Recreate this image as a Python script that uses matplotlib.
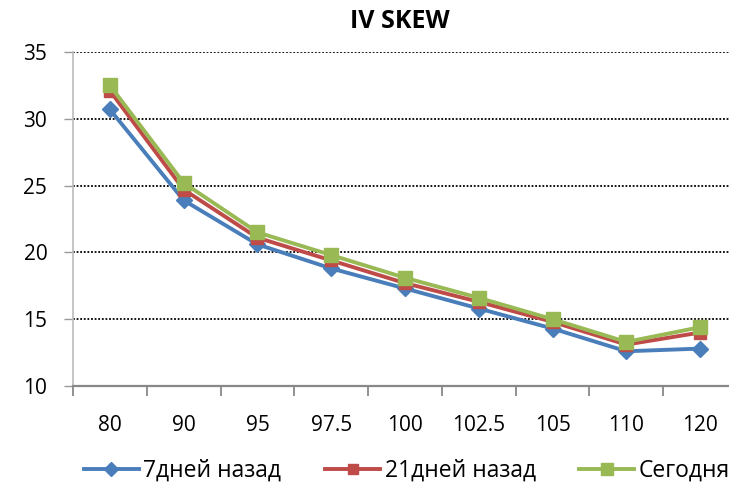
import matplotlib
matplotlib.use("Agg")
import matplotlib.pyplot as plt
import numpy as np

plt.rcParams['font.family'] = ['Open Sans', 'DejaVu Sans']

categories = ["80", "90", "95", "97.5", "100", "102.5", "105", "110", "120"]
days7 = [30.7, 23.9, 20.6, 18.8, 17.3, 15.8, 14.3, 12.6, 12.8]
days21 = [32.1, 24.7, 21.1, 19.4, 17.7, 16.3, 14.8, 13.1, 14.0]
today = [32.5, 25.2, 21.5, 19.8, 18.1, 16.6, 15.0, 13.3, 14.4]
labels = ["7дней назад", "21дней назад", "Сегодня"]
yticks = [10, 15, 20, 25, 30, 35]

fig = plt.figure(figsize=(7.29, 4.92), dpi=100)
ax = fig.add_axes([73/729, 1-386/492, (737-73)/729, (386-52)/492])

x = np.arange(len(categories))
ax.plot(x, days7, color='#4A7EBB', lw=2.8, marker='D', ms=8.5, label=labels[0], zorder=3)
ax.plot(x, days21, color='#BE4B48', lw=2.8, marker='s', ms=8.5, label=labels[1], zorder=4)
ax.plot(x, today, color='#98B954', lw=2.8, marker='s', ms=10.5, label=labels[2], zorder=5)

ax.set_xlim(-0.5, len(categories) - 0.5)
ax.set_ylim(10, 35)
ax.set_yticks(yticks)
ax.set_yticklabels([str(v) for v in yticks], fontsize=15)
for v in yticks[1:]:
    ax.axhline(v, color='black', lw=1.3, ls=(0, (1, 1)), zorder=1)

ax.set_xticks(np.arange(len(categories) + 1) - 0.5)
ax.set_xticklabels([])
ax.set_xticks(x, minor=True)
ax.set_xticklabels(categories, minor=True, fontsize=15)
ax.tick_params(axis='x', which='major', length=7, color='#888888', width=1.3, direction='out')
ax.tick_params(axis='x', which='minor', length=0, pad=21)
ax.tick_params(axis='y', length=6.5, color='#999999', width=1.0, pad=12)

for s in ['top', 'right']:
    ax.spines[s].set_visible(False)
ax.spines['bottom'].set_color('#888888')
ax.spines['bottom'].set_linewidth(1.6)
ax.spines['left'].set_color('#bbbbbb')
ax.spines['left'].set_linewidth(1.2)
ax.spines['left'].set_linestyle((0, (1, 1)))

fig.text(400/729, 1-21/492, "IV SKEW", fontsize=18, fontweight='bold', ha='center', va='center')

fig.legend(loc='center', bbox_to_anchor=(407/729, 1-471/492), ncol=3, frameon=False,
           fontsize=16.5, handlelength=2.4, columnspacing=1.9, handletextpad=0.2, markerscale=0.85)

fig.savefig("out.png", dpi=100)
